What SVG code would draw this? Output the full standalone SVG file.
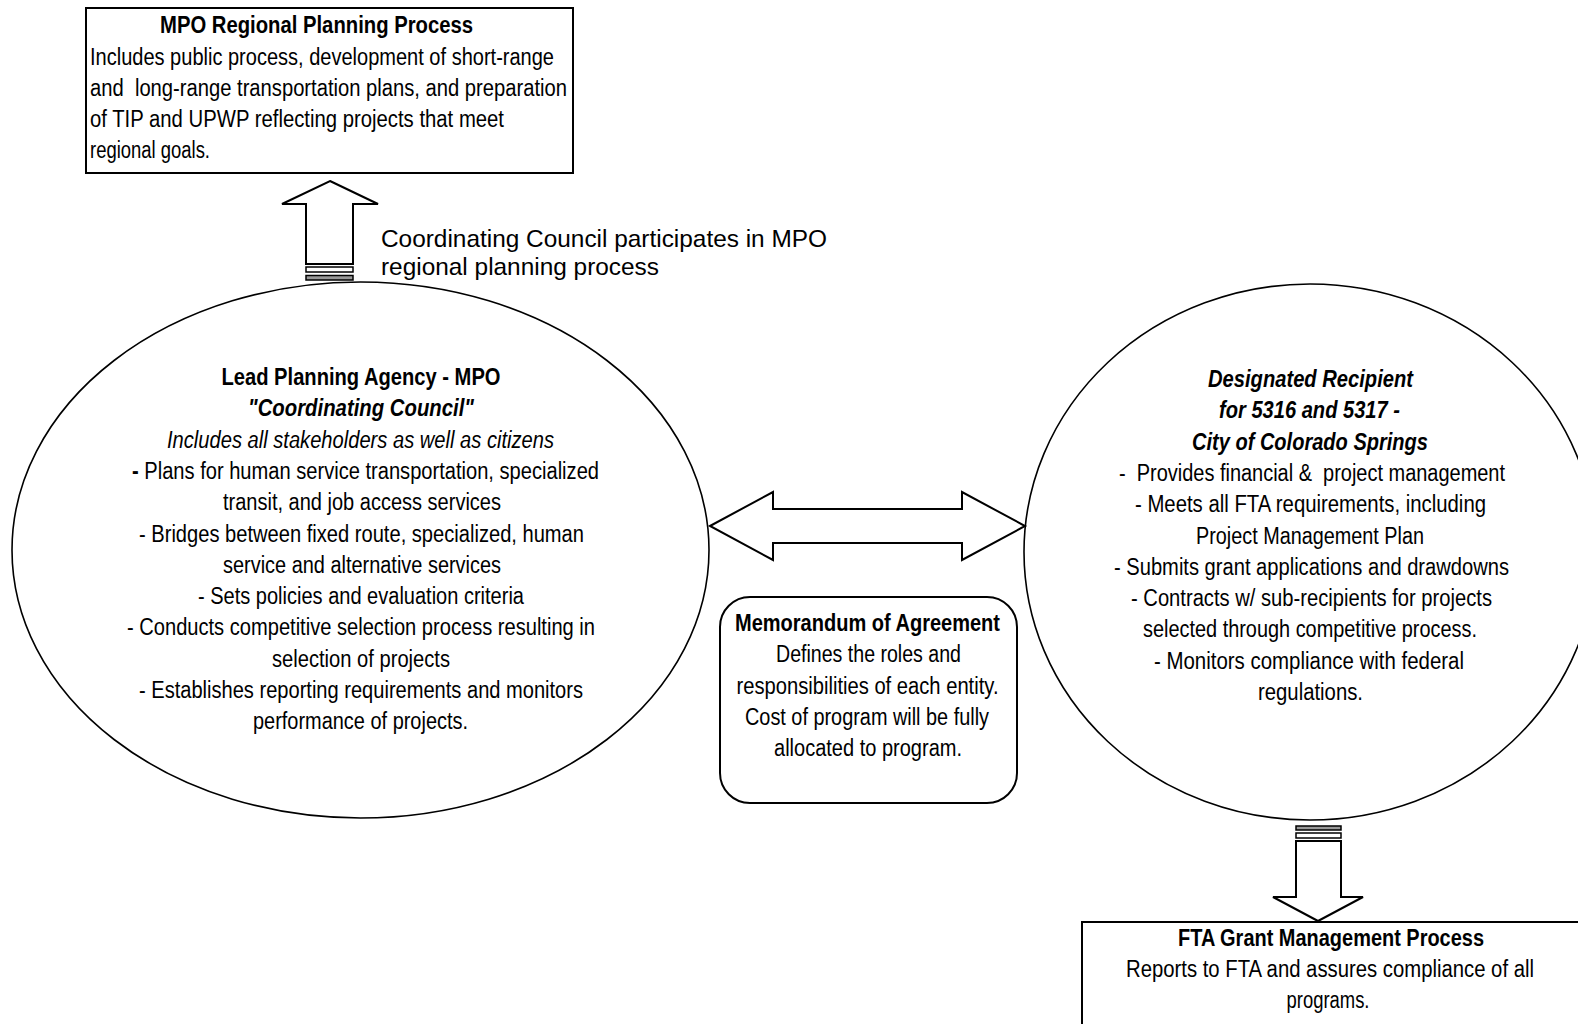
<svg xmlns="http://www.w3.org/2000/svg" width="1578" height="1024" viewBox="0 0 1578 1024">
<style>
  .t { font-family: "Liberation Sans", Arial, sans-serif; font-size: 23.5px; fill: #000; }
  .c { text-anchor: middle; }
  .b { font-weight: bold; }
  .i { font-style: italic; }
  .shape { fill: #fff; stroke: #000; stroke-width: 1.6; }
  .box { fill: #fff; stroke: #000; stroke-width: 2; }
  .arrow { fill: #fff; stroke: #000; stroke-width: 2; stroke-linejoin: miter; }
  .stripe { fill: #fff; stroke: #000; stroke-width: 1.5; }
  .stripe-g { fill: #999; stroke: #000; stroke-width: 1.5; }
  .lbl { font-family: "Liberation Sans", Arial, sans-serif; font-size: 24.4px; fill: #000; }
</style>
<rect width="1578" height="1024" fill="#fff"/>

<g id="node-mpo-regional-planning">
  <rect class="box" x="86" y="8" width="487" height="165"/>
  <text class="t b c" x="316.5" y="33" textLength="313" lengthAdjust="spacingAndGlyphs">MPO Regional Planning Process</text>
  <text class="t" x="90" y="65" textLength="464" lengthAdjust="spacingAndGlyphs">Includes public process, development of short-range</text>
  <text class="t" x="90" y="96" textLength="477" lengthAdjust="spacingAndGlyphs" xml:space="preserve">and  long-range transportation plans, and preparation</text>
  <text class="t" x="90" y="127" textLength="414" lengthAdjust="spacingAndGlyphs">of TIP and UPWP reflecting projects that meet</text>
  <text class="t" x="90" y="158" textLength="120" lengthAdjust="spacingAndGlyphs">regional goals.</text>
</g>

<g id="node-lead-planning-agency">
  <ellipse class="shape" cx="360.5" cy="550" rx="348.5" ry="268"/>
  <text class="t b c" x="361" y="385" textLength="279" lengthAdjust="spacingAndGlyphs">Lead Planning Agency - MPO</text>
  <text class="t b i c" x="361" y="416.3" textLength="226" lengthAdjust="spacingAndGlyphs">"Coordinating Council"</text>
  <text class="t i c" x="360.5" y="447.6" textLength="387" lengthAdjust="spacingAndGlyphs">Includes all stakeholders as well as citizens</text>
  <text class="t c" x="365.5" y="478.9" textLength="467" lengthAdjust="spacingAndGlyphs"><tspan class="b">-</tspan> Plans for human service transportation, specialized</text>
  <text class="t c" x="362" y="510.2" textLength="278" lengthAdjust="spacingAndGlyphs">transit, and job access services</text>
  <text class="t c" x="361.5" y="541.5" textLength="445" lengthAdjust="spacingAndGlyphs">- Bridges between fixed route, specialized, human</text>
  <text class="t c" x="362" y="572.8" textLength="278" lengthAdjust="spacingAndGlyphs">service and alternative services</text>
  <text class="t c" x="361" y="604.1" textLength="326" lengthAdjust="spacingAndGlyphs">- Sets policies and evaluation criteria</text>
  <text class="t c" x="361" y="635.4" textLength="468" lengthAdjust="spacingAndGlyphs">- Conducts competitive selection process resulting in</text>
  <text class="t c" x="361" y="666.7" textLength="178" lengthAdjust="spacingAndGlyphs">selection of projects</text>
  <text class="t c" x="361" y="698" textLength="444" lengthAdjust="spacingAndGlyphs">- Establishes reporting requirements and monitors</text>
  <text class="t c" x="360.5" y="729.3" textLength="215" lengthAdjust="spacingAndGlyphs">performance of projects.</text>
</g>

<g id="node-designated-recipient">
  <ellipse class="shape" cx="1310" cy="552" rx="286" ry="268"/>
  <text class="t b i c" x="1310.5" y="387" textLength="205" lengthAdjust="spacingAndGlyphs">Designated Recipient</text>
  <text class="t b i c" x="1309.5" y="418.3" textLength="181" lengthAdjust="spacingAndGlyphs">for 5316 and 5317 -</text>
  <text class="t b i c" x="1310" y="449.6" textLength="236" lengthAdjust="spacingAndGlyphs">City of Colorado Springs</text>
  <text class="t c" x="1312" y="480.9" textLength="386" lengthAdjust="spacingAndGlyphs" xml:space="preserve">-  Provides financial &amp;  project management</text>
  <text class="t c" x="1310.5" y="512.2" textLength="351" lengthAdjust="spacingAndGlyphs">- Meets all FTA requirements, including</text>
  <text class="t c" x="1310" y="543.5" textLength="228" lengthAdjust="spacingAndGlyphs">Project Management Plan</text>
  <text class="t c" x="1311.5" y="574.8" textLength="395" lengthAdjust="spacingAndGlyphs">- Submits grant applications and drawdowns</text>
  <text class="t c" x="1311.5" y="606.1" textLength="361" lengthAdjust="spacingAndGlyphs">- Contracts w/ sub-recipients for projects</text>
  <text class="t c" x="1310" y="637.4" textLength="334" lengthAdjust="spacingAndGlyphs">selected through competitive process.</text>
  <text class="t c" x="1309" y="668.7" textLength="310" lengthAdjust="spacingAndGlyphs">- Monitors compliance with federal</text>
  <text class="t c" x="1310.5" y="700" textLength="105" lengthAdjust="spacingAndGlyphs">regulations.</text>
</g>

<g id="node-memorandum">
  <rect class="box" x="720" y="597" width="297" height="206" rx="30" ry="30"/>
  <text class="t b c" x="867.5" y="631" textLength="265" lengthAdjust="spacingAndGlyphs">Memorandum of Agreement</text>
  <text class="t c" x="868.5" y="662.3" textLength="185" lengthAdjust="spacingAndGlyphs">Defines the roles and</text>
  <text class="t c" x="867.5" y="693.6" textLength="262" lengthAdjust="spacingAndGlyphs">responsibilities of each entity.</text>
  <text class="t c" x="867" y="724.9" textLength="244" lengthAdjust="spacingAndGlyphs">Cost of program will be fully</text>
  <text class="t c" x="868" y="756.2" textLength="188" lengthAdjust="spacingAndGlyphs">allocated to program.</text>
</g>

<g id="node-fta-grant-management">
  <rect class="box" x="1082" y="922" width="520" height="130"/>
  <text class="t b c" x="1331" y="946" textLength="306" lengthAdjust="spacingAndGlyphs">FTA Grant Management Process</text>
  <text class="t c" x="1330" y="977" textLength="408" lengthAdjust="spacingAndGlyphs">Reports to FTA and assures compliance of all</text>
  <text class="t c" x="1328" y="1008" textLength="83" lengthAdjust="spacingAndGlyphs">programs.</text>
</g>

<g id="connectors">
  <g id="arrow-up-to-mpo">
    <polygon class="arrow" points="330,181 378,204 353,204 353,264 306,264 306,204 282,204"/>
    <rect class="stripe" x="306" y="267" width="47" height="5"/>
    <rect class="stripe-g" x="306" y="275.5" width="47" height="4.5"/>
  </g>
  <text class="lbl" x="381" y="247">Coordinating Council participates in MPO</text>
  <text class="lbl" x="381" y="275">regional planning process</text>
  <g id="arrow-both-moa">
    <polygon class="arrow" points="710,526 773,492 773,509 962,509 962,492 1025,526 962,560 962,543 773,543 773,560"/>
  </g>
  <g id="arrow-down-to-fta">
    <rect class="stripe-g" x="1296" y="826" width="45" height="4"/>
    <rect class="stripe" x="1296" y="833" width="45" height="5"/>
    <polygon class="arrow" points="1296,841 1341,841 1341,897 1363,897 1318,921 1273,897 1296,897"/>
  </g>
</g>
</svg>
